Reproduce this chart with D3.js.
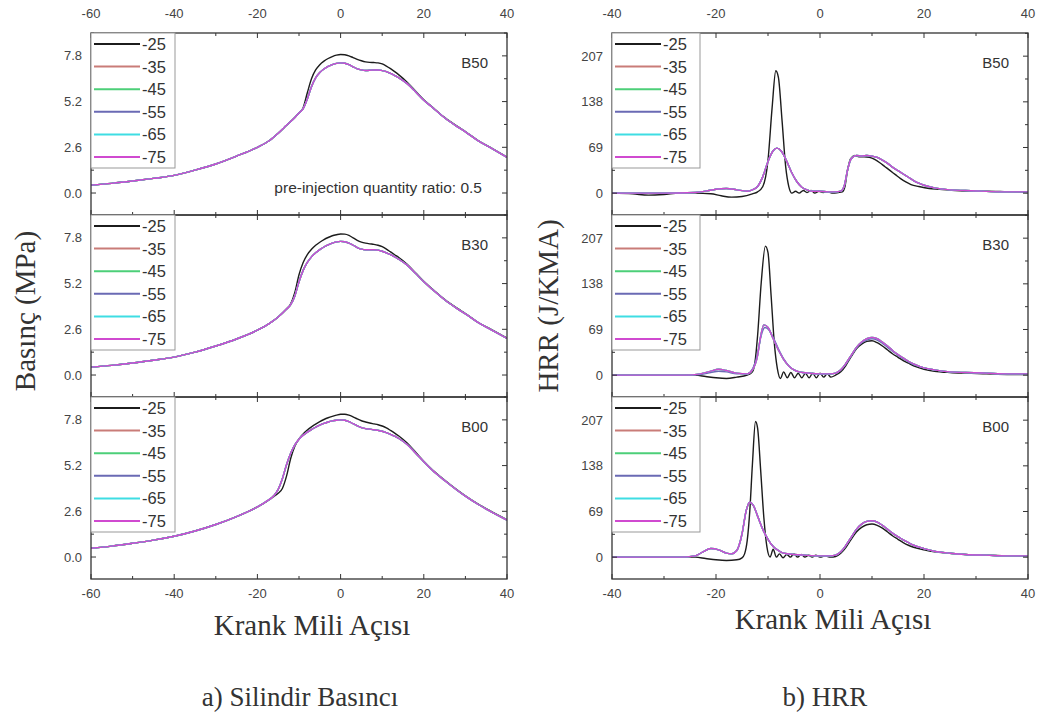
<!DOCTYPE html>
<html>
<head>
<meta charset="utf-8">
<script src="https://cdn.jsdelivr.net/npm/d3@7"></script>
<style>
  body { margin: 0; background: #fff; }
  svg { display: block; }
  .tick-label { font-family: "Liberation Sans", Arial, sans-serif; font-size: 13px; fill: #444; }
  .serif { font-family: "Liberation Serif", "Times New Roman", serif; fill: #333; }
  .sans { font-family: "Liberation Sans", Arial, sans-serif; fill: #333; }
</style>
</head>
<body>
<svg id="chart" width="1043" height="725"></svg>
<script>
// Injection timings (legend) and colours
const timings = ["-25", "-35", "-45", "-55", "-65", "-75"];
const seriesColors = ["#1c1c1c", "#c97c78", "#4ccf78", "#6a6ab4", "#3fdde3", "#d04ad0"];
const blendNames = ["B50", "B30", "B00"];

// Tick values
const pressureTicks = [0, 2.6, 5.2, 7.8];
const hrrTicks = [0, 69, 138, 207];
const pressureAngleTicks = [-60, -40, -20, 0, 20, 40];
const hrrAngleTicks = [-40, -20, 0, 20, 40];

// ---- Cylinder pressure (MPa) vs crank angle ----
const pB50_25 = [[-60,0.45],[-55,0.55],[-50,0.68],[-45,0.83],[-40,1.0],[-35,1.3],[-30,1.65],[-25,2.1],[-20,2.6],[-17,3.0],[-15,3.4],[-13,3.85],[-11,4.3],[-10,4.55],[-9,4.85],[-8,5.7],[-7,6.5],[-6,7.0],[-5,7.3],[-4,7.5],[-3,7.65],[-2,7.76],[-1,7.84],[0,7.88],[1,7.86],[2,7.8],[3,7.7],[4,7.6],[5,7.52],[6,7.46],[7,7.43],[8,7.42],[9,7.4],[10,7.34],[11,7.22],[12,7.07],[13,6.9],[14,6.72],[16,6.3],[18,5.8],[20,5.3],[22,4.9],[25,4.3],[28,3.8],[30,3.5],[33,3.0],[36,2.6],[40,2.05]];
const pB50_75 = [[-60,0.45],[-55,0.55],[-50,0.68],[-45,0.83],[-40,1.0],[-35,1.3],[-30,1.65],[-25,2.1],[-20,2.6],[-17,3.0],[-15,3.4],[-13,3.85],[-11,4.3],[-10,4.55],[-9,4.8],[-8,5.35],[-7,6.05],[-6,6.55],[-5,6.85],[-4,7.05],[-3,7.2],[-2,7.3],[-1,7.37],[0,7.4],[1,7.38],[2,7.3],[3,7.18],[4,7.06],[5,7.0],[6,6.97],[7,6.98],[8,7.0],[9,7.0],[10,6.96],[11,6.9],[12,6.8],[13,6.68],[14,6.55],[16,6.22],[18,5.76],[20,5.28],[22,4.88],[25,4.28],[28,3.78],[30,3.48],[33,2.98],[36,2.58],[40,2.03]];

const pB30_25 = [[-60,0.45],[-55,0.55],[-50,0.68],[-45,0.84],[-40,1.02],[-35,1.3],[-30,1.65],[-25,2.05],[-20,2.55],[-17,2.95],[-15,3.3],[-13,3.75],[-12,4.05],[-11,4.7],[-10,5.7],[-9,6.4],[-8,6.85],[-7,7.15],[-6,7.38],[-5,7.55],[-4,7.7],[-3,7.82],[-2,7.92],[-1,7.98],[0,8.02],[1,8.01],[2,7.94],[3,7.8],[4,7.66],[5,7.56],[6,7.5],[7,7.46],[8,7.43],[9,7.38],[10,7.3],[11,7.16],[12,7.0],[13,6.84],[14,6.68],[16,6.3],[18,5.82],[20,5.33],[22,4.9],[25,4.3],[28,3.8],[30,3.5],[33,3.0],[36,2.62],[40,2.1]];
const pB30_75 = [[-60,0.45],[-55,0.55],[-50,0.68],[-45,0.84],[-40,1.02],[-35,1.3],[-30,1.65],[-25,2.05],[-20,2.55],[-17,2.95],[-15,3.3],[-13,3.75],[-12,4.0],[-11,4.5],[-10,5.3],[-9,5.95],[-8,6.4],[-7,6.72],[-6,6.95],[-5,7.13],[-4,7.28],[-3,7.4],[-2,7.5],[-1,7.57],[0,7.6],[1,7.58],[2,7.5],[3,7.38],[4,7.25],[5,7.16],[6,7.12],[7,7.12],[8,7.12],[9,7.1],[10,7.04],[11,6.95],[12,6.84],[13,6.72],[14,6.58],[16,6.25],[18,5.78],[20,5.3],[22,4.88],[25,4.28],[28,3.78],[30,3.48],[33,2.99],[36,2.6],[40,2.08]];

const pB00_25 = [[-60,0.5],[-55,0.62],[-50,0.78],[-45,0.96],[-40,1.18],[-35,1.48],[-30,1.85],[-25,2.3],[-20,2.85],[-18,3.12],[-16,3.45],[-15,3.62],[-14,3.9],[-13,4.6],[-12,5.6],[-11,6.3],[-10,6.72],[-9,7.0],[-8,7.22],[-7,7.4],[-6,7.56],[-5,7.7],[-4,7.82],[-3,7.92],[-2,8.0],[-1,8.07],[0,8.12],[1,8.12],[2,8.07],[3,7.97],[4,7.85],[5,7.75],[6,7.68],[7,7.62],[8,7.57],[9,7.52],[10,7.45],[11,7.34],[12,7.2],[13,7.05],[14,6.88],[16,6.48],[18,5.97],[20,5.45],[22,4.98],[25,4.38],[28,3.82],[30,3.48],[33,3.02],[36,2.62],[40,2.12]];
const pB00_75 = [[-60,0.5],[-55,0.62],[-50,0.78],[-45,0.96],[-40,1.18],[-35,1.48],[-30,1.85],[-25,2.3],[-20,2.85],[-18,3.14],[-16,3.5],[-15,3.85],[-14,4.45],[-13,5.25],[-12,5.9],[-11,6.38],[-10,6.7],[-9,6.93],[-8,7.1],[-7,7.25],[-6,7.38],[-5,7.5],[-4,7.6],[-3,7.68],[-2,7.74],[-1,7.78],[0,7.8],[1,7.78],[2,7.7],[3,7.58],[4,7.46],[5,7.36],[6,7.3],[7,7.27],[8,7.24],[9,7.2],[10,7.15],[11,7.07],[12,6.98],[13,6.87],[14,6.74],[16,6.4],[18,5.92],[20,5.42],[22,4.95],[25,4.35],[28,3.8],[30,3.46],[33,3.0],[36,2.6],[40,2.1]];

// ---- Heat release rate (J/KMA) vs crank angle ----
const hB50_25 = [[-40,0],[-36,-1],[-33,-3],[-30,-2],[-27,0],[-24,0],[-21,-1],[-19,-4],[-17,-6],[-15,-5],[-13,-1],[-12,2],[-11,10],[-10,50],[-9.2,130],[-8.5,185],[-8,175],[-7.3,110],[-6.6,40],[-6,10],[-5.4,0],[-4.7,3],[-4,0],[-3.2,4],[-2.5,1],[-1.7,4],[-1,0],[-0.2,3],[0.6,1],[1.5,2],[2.5,0],[3.5,1],[4.3,2],[4.8,10],[5.3,35],[5.9,52],[6.7,57],[7.5,55],[8.5,55],[9.5,54],[10.5,51],[11.5,46],[12.5,40],[13.5,34],[14.5,28],[15.5,22],[16.5,17],[17.5,13],[19,10],[21,7],[23,6],[26,4],[29,3],[32,3],[36,2],[40,1]];
const hB50_75 = [[-40,0],[-30,0],[-24,1],[-22,3],[-20,6],[-18,7],[-16,5],[-14,3],[-13,5],[-12,10],[-11,25],[-10,48],[-9,64],[-8.3,68],[-7.5,64],[-6.5,50],[-5.5,32],[-4.5,18],[-3.5,9],[-2.5,5],[-1.5,3],[0,3],[1.5,2],[3,2],[4,3],[4.7,12],[5.3,35],[6,52],[7,57],[8,56],[9,57],[10,56],[11,54],[12,50],[13,45],[14,39],[15,34],[16,29],[17,24],[18,19],[19,15],[20,12],[22,8],[25,5],[28,4],[31,3],[35,2],[40,2]];

const hB30_25 = [[-40,0],[-30,0],[-24,0],[-22,-2],[-20,-4],[-18,-5],[-16,-3],[-14,0],[-13,5],[-12.5,20],[-12,60],[-11.3,140],[-10.5,195],[-10,185],[-9.4,120],[-8.8,50],[-8.2,10],[-7.6,-5],[-7,5],[-6.3,-4],[-5.6,4],[-4.9,-4],[-4.2,3],[-3.5,-4],[-2.8,3],[-2.1,-4],[-1.4,3],[-0.7,-4],[0,3],[0.7,-3],[1.4,2],[2.1,-3],[3,0],[4,5],[5,15],[6,28],[7,40],[8,47],[9,51],[10,52],[11,49],[12,44],[13,38],[14,32],[15,27],[16,22],[17,18],[18,14],[20,9],[22,6],[25,4],[28,3],[32,2],[36,1],[40,1]];
const hB30_55 = [[-40,0],[-26,0],[-23,1],[-21,4],[-19.5,6],[-18,5],[-16,2],[-14,2],[-13,9],[-12,33],[-11.3,60],[-10.6,72],[-9.8,68],[-9,57],[-8,40],[-7,25],[-6,14],[-5,8],[-4,5],[-2,3],[0,2],[2,2],[3,3],[4,8],[5,17],[6,29],[7,41],[8,49],[9,53],[10,55],[11,53],[12,48],[13,42],[14,36],[15,30],[16,25],[17,20],[18,16],[20,11],[22,8],[25,5],[28,4],[32,3],[36,2],[40,2]];
const hB30_75 = [[-40,0],[-26,0],[-23,2],[-21,6],[-19.5,9],[-18,7],[-16,3],[-14,2],[-13,8],[-12,30],[-11.5,55],[-10.8,76],[-10,72],[-9,55],[-8,38],[-7,24],[-6,14],[-5,8],[-4,5],[-2,3],[0,2],[2,2],[3,3],[4,8],[5,18],[6,30],[7,42],[8,50],[9,55],[10,57],[11,55],[12,50],[13,44],[14,37],[15,31],[16,26],[17,21],[18,17],[20,11],[22,8],[25,5],[28,4],[32,3],[36,2],[40,2]];

const hB00_25 = [[-40,0],[-30,0],[-24,0],[-22,-2],[-20,-4],[-18,-5],[-16,-4],[-15,-1],[-14.5,5],[-14,25],[-13.5,70],[-13,140],[-12.4,205],[-12,195],[-11.4,130],[-10.8,60],[-10.2,15],[-9.6,0],[-9,12],[-8.4,0],[-7.8,5],[-7.1,-1],[-6.4,4],[-5.7,0],[-5,5],[-4.3,0],[-3.6,4],[-2.9,0],[-2.2,3],[-1.5,0],[-0.8,3],[0,0],[1,2],[2,0],[3,1],[4,6],[5,15],[6,27],[7,38],[8,45],[9,49],[10,50],[11,48],[12,44],[13,38],[14,32],[15,27],[16,22],[17,18],[18,15],[20,11],[22,8],[25,6],[28,4],[32,3],[36,2],[40,1]];
const hB00_75 = [[-40,0],[-27,0],[-24,2],[-22.5,8],[-21,13],[-19.5,11],[-18,6],[-17,5],[-16,10],[-15,35],[-14.2,70],[-13.5,83],[-12.8,78],[-12,62],[-11,42],[-10,27],[-9,16],[-8,10],[-7,6],[-5,4],[-3,3],[0,2],[2,2],[3,3],[4,8],[5,18],[6,30],[7,42],[8,50],[9,54],[10,55],[11,53],[12,48],[13,42],[14,36],[15,31],[16,26],[17,22],[18,18],[20,13],[22,9],[25,6],[28,4],[32,3],[36,2],[40,2]];

// series per panel, in legend order (-25 ... -75); curves that sit under -75 share its values
const pressureSeries = [
  [pB50_25, pB50_75, pB50_75, pB50_75, pB50_75, pB50_75],
  [pB30_25, pB30_75, pB30_75, pB30_75, pB30_75, pB30_75],
  [pB00_25, pB00_75, pB00_75, pB00_75, pB00_75, pB00_75]
];
const hrrSeries = [
  [hB50_25, hB50_75, hB50_75, hB50_75, hB50_75, hB50_75],
  [hB30_25, hB30_75, hB30_75, hB30_55, hB30_75, hB30_75],
  [hB00_25, hB00_75, hB00_75, hB00_75, hB00_75, hB00_75]
];

const svg = d3.select('#chart');
const rows = [[33, 215], [215, 397], [397, 579]];

const pressureConfig = {
  left: 91, right: 507,
  xDomain: [-60, 40], xTicks: pressureAngleTicks, xMinor: 10,
  yDomain: [-1.25, 9.1], yTicks: pressureTicks, yMinor: 1.3,
  yFormat: d3.format('.1f'),
  series: pressureSeries,
  legendRight: 175,
  id: 'p'
};
const hrrConfig = {
  left: 612, right: 1028,
  xDomain: [-40, 40], xTicks: hrrAngleTicks, xMinor: 10,
  yDomain: [-33, 242], yTicks: hrrTicks, yMinor: 34.5,
  yFormat: d3.format('d'),
  series: hrrSeries,
  legendRight: 700,
  id: 'h'
};

function minorRange(domain, step) {
  const out = [];
  const start = Math.ceil(domain[0] / step) * step;
  for (let v = start; v <= domain[1] + 1e-9; v += step) out.push(+v.toFixed(4));
  return out;
}

function makePanel(config, row, rowIndex) {
  const [top, bottom] = row;
  const x = d3.scaleLinear().domain(config.xDomain).range([config.left, config.right]);
  const y = d3.scaleLinear().domain(config.yDomain).range([bottom, top]);
  const g = svg.append('g');

  const clipId = `clip-${config.id}-${rowIndex}`;
  svg.append('clipPath').attr('id', clipId)
    .append('rect')
    .attr('x', config.left).attr('y', top)
    .attr('width', config.right - config.left).attr('height', bottom - top);

  // curves, -25 first so -75 ends on top
  const line = d3.line()
    .x(d => x(d[0]))
    .y(d => y(d[1]))
    .curve(d3.curveMonotoneX);

  g.append('g').attr('clip-path', `url(#${clipId})`)
    .selectAll('path')
    .data(config.series[rowIndex])
    .join('path')
    .attr('d', d => line(d))
    .attr('fill', 'none')
    .attr('stroke', (d, i) => seriesColors[i])
    .attr('stroke-width', 1.4)
    .attr('stroke-linejoin', 'round');

  // ticks, pointing inward on all four sides
  const xMin = minorRange(config.xDomain, config.xMinor);
  const yMin = minorRange(config.yDomain, config.yMinor);
  const tickG = g.append('g').attr('stroke', '#333').attr('stroke-width', 1);
  xMin.forEach(v => {
    const len = config.xTicks.includes(v) ? 5 : 3;
    tickG.append('line').attr('x1', x(v)).attr('x2', x(v)).attr('y1', bottom).attr('y2', bottom - len);
    tickG.append('line').attr('x1', x(v)).attr('x2', x(v)).attr('y1', top).attr('y2', top + len);
  });
  yMin.forEach(v => {
    const len = config.yTicks.some(t => Math.abs(t - v) < 1e-6) ? 5 : 3;
    tickG.append('line').attr('x1', config.left).attr('x2', config.left + len).attr('y1', y(v)).attr('y2', y(v));
    tickG.append('line').attr('x1', config.right).attr('x2', config.right - len).attr('y1', y(v)).attr('y2', y(v));
  });

  // frame
  g.append('rect')
    .attr('x', config.left).attr('y', top)
    .attr('width', config.right - config.left).attr('height', bottom - top)
    .attr('fill', 'none').attr('stroke', '#333').attr('stroke-width', 1.3);

  // y tick labels
  g.selectAll('text.ylab')
    .data(config.yTicks)
    .join('text')
    .attr('class', 'tick-label ylab')
    .attr('x', config.left - 9)
    .attr('y', d => y(d))
    .attr('dy', '0.35em')
    .attr('text-anchor', 'end')
    .text(config.yFormat);

  // x tick labels on top of the first and bottom of the last panel
  if (rowIndex === 0 || rowIndex === 2) {
    g.selectAll('text.xlab')
      .data(config.xTicks)
      .join('text')
      .attr('class', 'tick-label xlab')
      .attr('x', d => x(d))
      .attr('y', rowIndex === 0 ? top - 20 : bottom + 14)
      .attr('dy', '0.35em')
      .attr('text-anchor', 'middle')
      .text(d => d);
  }

  // blend label
  g.append('text')
    .attr('class', 'sans')
    .attr('x', config.right - 19)
    .attr('y', top + 30)
    .attr('dy', '0.35em')
    .attr('text-anchor', 'end')
    .attr('font-size', 15)
    .text(blendNames[rowIndex]);

  // legend
  const lg = g.append('g');
  lg.append('rect')
    .attr('x', config.left).attr('y', top)
    .attr('width', config.legendRight - config.left).attr('height', 135)
    .attr('fill', '#fff').attr('stroke', '#999').attr('stroke-width', 1);
  timings.forEach((t, i) => {
    const ly = top + 11 + i * 22.6;
    lg.append('line')
      .attr('x1', config.left + 3).attr('x2', config.left + 49)
      .attr('y1', ly).attr('y2', ly)
      .attr('stroke', seriesColors[i]).attr('stroke-width', 2);
    lg.append('text')
      .attr('class', 'sans')
      .attr('x', config.left + 51).attr('y', ly)
      .attr('dy', '0.36em')
      .attr('font-size', 16.5)
      .text(t);
  });
}

[0, 1, 2].forEach(i => makePanel(pressureConfig, rows[i], i));
[0, 1, 2].forEach(i => makePanel(hrrConfig, rows[i], i));

// annotation in the top-left panel
svg.append('text')
  .attr('class', 'sans')
  .attr('x', 482).attr('y', 188)
  .attr('dy', '0.35em')
  .attr('text-anchor', 'end')
  .attr('font-size', 15.5)
  .text('pre-injection quantity ratio: 0.5');

// axis titles
svg.append('text')
  .attr('class', 'serif')
  .attr('transform', 'translate(25,311) rotate(-90)')
  .attr('dy', '0.35em')
  .attr('text-anchor', 'middle')
  .attr('font-size', 29)
  .text('Basınç (MPa)');

svg.append('text')
  .attr('class', 'serif')
  .attr('transform', 'translate(548,306) rotate(-90)')
  .attr('dy', '0.35em')
  .attr('text-anchor', 'middle')
  .attr('font-size', 29)
  .text('HRR (J/KMA)');

svg.append('text')
  .attr('class', 'serif')
  .attr('x', 312).attr('y', 625)
  .attr('dy', '0.35em')
  .attr('text-anchor', 'middle')
  .attr('font-size', 29)
  .text('Krank Mili Açısı');

svg.append('text')
  .attr('class', 'serif')
  .attr('x', 833).attr('y', 619)
  .attr('dy', '0.35em')
  .attr('text-anchor', 'middle')
  .attr('font-size', 29)
  .text('Krank Mili Açısı');

svg.append('text')
  .attr('class', 'serif')
  .attr('x', 300).attr('y', 697)
  .attr('dy', '0.35em')
  .attr('text-anchor', 'middle')
  .attr('font-size', 27)
  .text('a) Silindir Basıncı');

svg.append('text')
  .attr('class', 'serif')
  .attr('x', 825).attr('y', 697)
  .attr('dy', '0.35em')
  .attr('text-anchor', 'middle')
  .attr('font-size', 27)
  .text('b) HRR');
</script>
</body>
</html>
